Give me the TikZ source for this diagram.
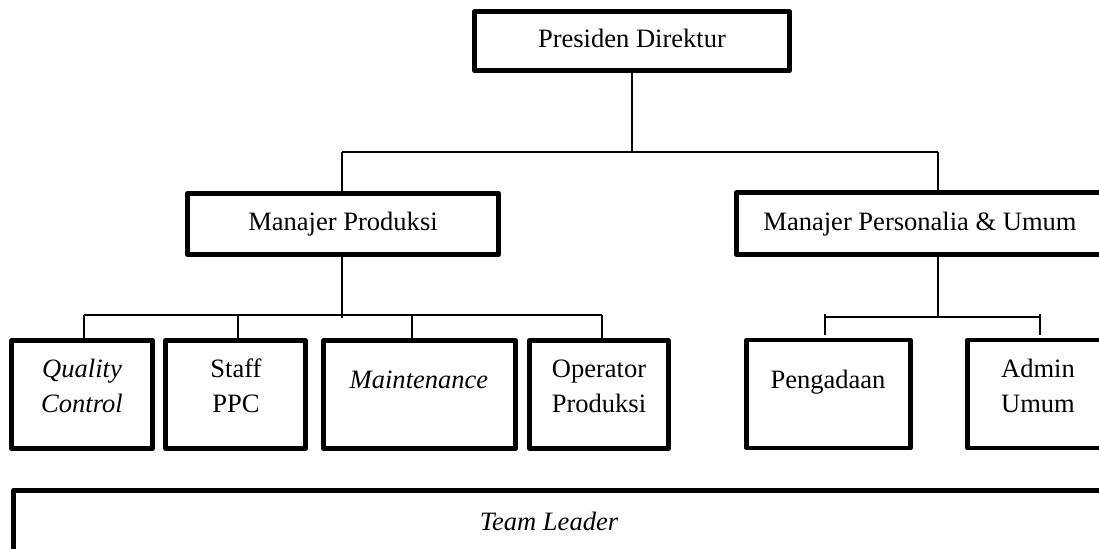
\documentclass[tikz,border=0pt]{standalone}
\usepackage{fontspec}
\setmainfont{Liberation Serif}
\begin{document}
\begin{tikzpicture}[x=0.75pt,y=-0.75pt,
  box/.style={draw=black,line width=3.6pt,fill=white,rectangle,inner sep=0pt,outer sep=0pt,
              line join=round},
  wire/.style={draw=black,line width=1.1pt},
  lbl/.style={inner sep=0pt,anchor=base,font=\fontsize{19.9}{26}\selectfont}]

% canvas
\useasboundingbox (0,0) rectangle (1099,549);
\clip (0,0) rectangle (1099,549);
\fill[white] (0,0) rectangle (1099,549);

% boxes
\node[box,minimum width=315*0.75pt,minimum height=59*0.75pt] (pd) at (632,41) {};
\node[box,minimum width=311*0.75pt,minimum height=61*0.75pt] (mp) at (343,224) {};
\node[box,minimum width=374*0.75pt,minimum height=62*0.75pt] (mpu) at (923.5,223.5) {};

\node[box,minimum width=141*0.75pt,minimum height=108*0.75pt] (qc) at (82,394.5) {};
\node[box,minimum width=140*0.75pt,minimum height=108*0.75pt] (ppc) at (235.5,394.5) {};
\node[box,minimum width=192*0.75pt,minimum height=108*0.75pt] (mt) at (419.5,394.5) {};
\node[box,minimum width=139*0.75pt,minimum height=108*0.75pt] (op) at (599,394.5) {};
\node[box,minimum width=164*0.75pt,minimum height=108*0.75pt] (pg) at (828.5,394) {};
\node[box,minimum width=150*0.75pt,minimum height=108*0.75pt] (au) at (1042.5,394) {};

\node[box,minimum width=1100*0.75pt,minimum height=120*0.75pt] (tl) at (563.5,550.5) {};

% labels
\node[lbl] (tpd) at (632,48) {Presiden Direktur};
\node[lbl] (tmp) at (343,230) {Manajer Produksi};
\node[lbl] (tmpu) at (920,230) {Manajer Personalia \& Umum};
\node[lbl] (tqc1) at (82,377) {\itshape Quality};
\node[lbl] (tqc2) at (82,412) {\itshape Control};
\node[lbl] (tppc1) at (236,377) {Staff};
\node[lbl] (tppc2) at (236,412) {PPC};
\node[lbl] (tmt) at (419,388) {\itshape Maintenance};
\node[lbl] (top1) at (599,377) {Operator};
\node[lbl] (top2) at (599,412) {Produksi};
\node[lbl] (tpg) at (828,388) {Pengadaan};
\node[lbl] (tau1) at (1038,377) {Admin};
\node[lbl] (tau2) at (1038,412) {Umum};
\node[lbl] (ttl) at (549,530) {\itshape Team Leader};

% top level connectors
\coordinate (j0) at (632,152);
\coordinate (jl) at (342,152);
\coordinate (jr) at (938,152);
\draw[wire] (pd.south) -- (j0);
\draw[wire] (jl) -- (jr);
\draw[wire] (jl) -- (jl |- mp.north);
\draw[wire] (jr) -- (jr |- mpu.north);

% production department
\coordinate (p0) at (342,318);
\coordinate (p1) at (84,315);
\coordinate (p2) at (238,315);
\coordinate (p3) at (412,315);
\coordinate (p4) at (602,315);
\draw[wire] (mp.south -| p0) -- (p0);
\draw[wire] (p1) -- (p4);
\draw[wire] (p1) -- (p1 |- qc.north);
\draw[wire] (p2) -- (p2 |- ppc.north);
\draw[wire] (p3) -- (p3 |- mt.north);
\draw[wire] (p4) -- (p4 |- op.north);

% personnel department
\coordinate (q0) at (938,317);
\coordinate (q1) at (825,317);
\coordinate (q2) at (1040,317);
\draw[wire] (mpu.south -| q0) -- (q0);
\draw[wire] (q1) -- (q2);
\draw[wire] (825,314) -- (825,335);
\draw[wire] (1040,314) -- (1040,335);
\end{tikzpicture}
\end{document}
